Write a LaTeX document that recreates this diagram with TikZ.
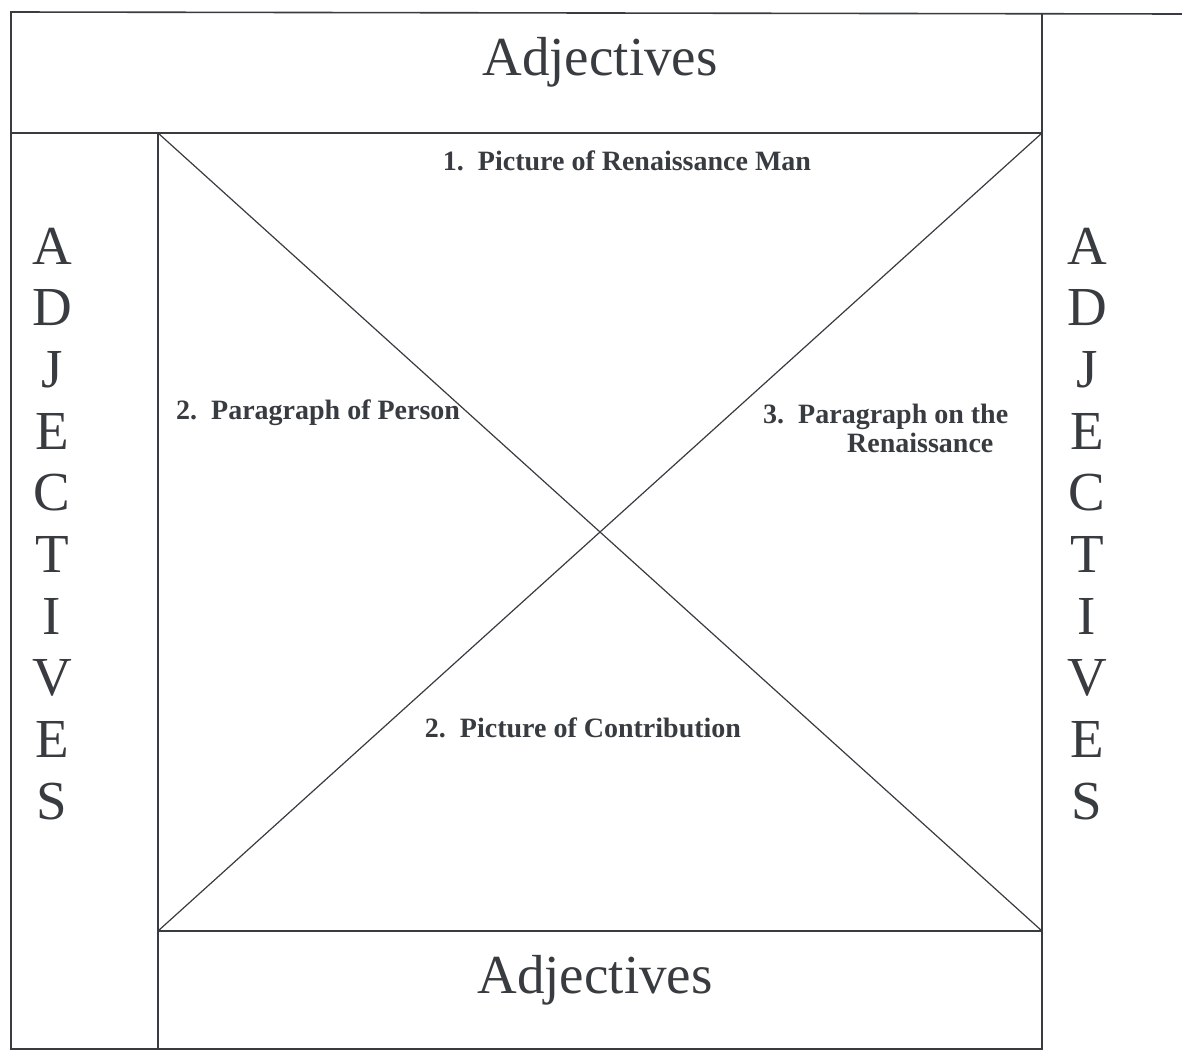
\documentclass[tikz,border=0pt]{standalone}
\usepackage{fontspec}
\setmainfont{Liberation Serif}
\definecolor{ink}{HTML}{383C40}
\begin{document}
\begin{tikzpicture}[x=1pt,y=-1pt,
  frame/.style={draw=ink,line width=1.6pt},
  big/.style={text=ink,font=\fontsize{55}{60}\selectfont,inner sep=0pt,anchor=base},
  lab/.style={text=ink,font=\fontsize{28}{32}\selectfont\bfseries,inner sep=0pt,anchor=base}]
\useasboundingbox (0,0) rectangle (1182,1055);
\fill[white] (0,0) rectangle (1182,1055);
% corners
\coordinate (otl) at (11,12);
\coordinate (otr) at (1182,14);
\coordinate (obl) at (11,1049);
\coordinate (vtop) at (1042,13);
\coordinate (vbot) at (1042,1049);
\coordinate (bandl) at (11,133);
\coordinate (itl) at (158,133);
\coordinate (itr) at (1042,133);
\coordinate (ibl) at (158,931);
\coordinate (ibr) at (1042,931);
\coordinate (ibot) at (158,1049);
% frame
\draw[frame] (otr) -- (otl) -- (obl) -- (vbot) -- (vtop);
\draw[frame] (bandl) -- (itr);
\draw[frame] (itl) -- (ibot);
\draw[frame] (ibl) -- (ibr);
\draw[frame,line width=1.2pt] (itl) -- (ibr);
\draw[frame,line width=1.2pt] (ibl) -- (itr);
% big labels
\node[big] (adjtop) at (600,75) {Adjectives};
\node[big] (adjbot) at (595,993) {Adjectives};
\foreach \L [count=\i] in {A,D,J,E,C,T,I,V,E,S}{
  \node[big] (l\i) at (52,{264+61.7*(\i-1)}) {\L};
  \node[big] (r\i) at (1087,{264+61.7*(\i-1)}) {\L};
}
% section labels
\node[lab] (p1) at (627,170) {1.\ \ Picture of Renaissance Man};
\node[lab,anchor=base west] (p2) at (176,419) {2.\ \ Paragraph of Person};
\node[lab,anchor=base west] (p3a) at (763,423) {3.\ \ Paragraph on the};
\node[lab,anchor=base west] (p3b) at (847,452) {Renaissance};
\node[lab] (p4) at (583,737) {2.\ \ Picture of Contribution};
\end{tikzpicture}
\end{document}
